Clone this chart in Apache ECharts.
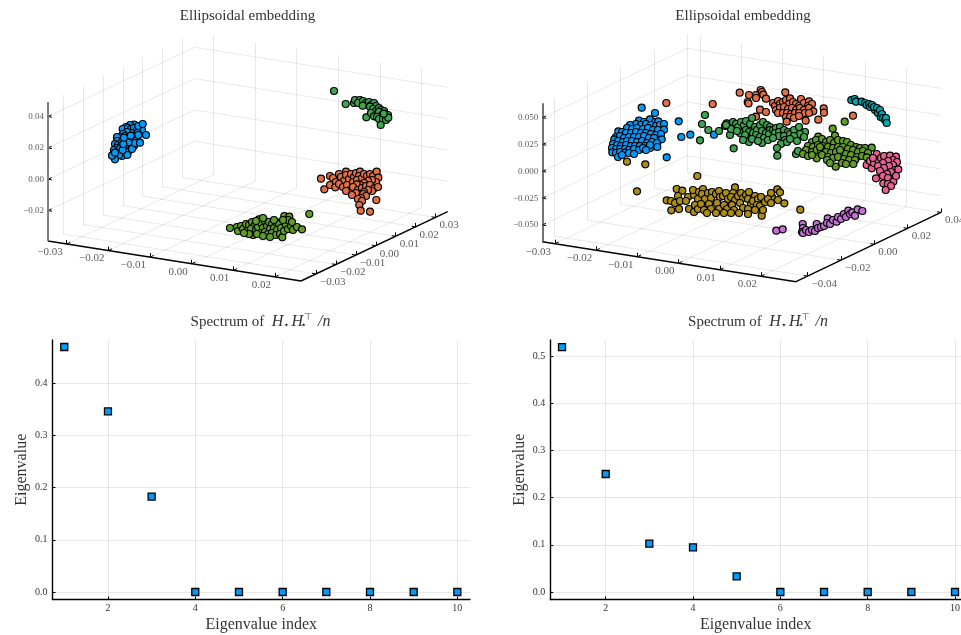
<!DOCTYPE html>
<html><head><meta charset="utf-8">
<style>html,body{margin:0;padding:0;background:#fff}#c{width:961px;height:635px}</style>
<script src="https://cdn.jsdelivr.net/npm/echarts@6/dist/echarts.min.js"></script>
</head><body><div id="c"></div>
<script>
// ---- Spectrum panels: values
const eigenIndex = [1,2,3,4,5,6,7,8,9,10];
const spectrumLeft = [0.4696,0.346,0.1827,0,0,0,0,0,0,0];
const spectrumRight = [0.519,0.25,0.1024,0.0946,0.033,0,0,0,0,0];
const xTickValues = [2,4,6,8,10];
const yTicksLeft = [0,0.1,0.2,0.3,0.4];
const yTicksRight = [0,0.1,0.2,0.3,0.4,0.5];

// ---- 3D tick labels
const lx = [-0.03,-0.02,-0.01,0,0.01,0.02];
const ly = [-0.03,-0.02,-0.01,0,0.01,0.02,0.03];
const lz = [-0.02,0,0.02,0.04];
const rx = [-0.03,-0.02,-0.01,0,0.01,0.02];
const ry = [-0.04,-0.02,0,0.02,0.04];
const rz = [-0.05,-0.025,0,0.025,0.05];

// ---- 3D clouds: positions on the flattened view plane
const leftBlue = [[127,130],[132,131],[135,132],[122,136],[119,139],[124,142],[127,140],[131,139],[135,139],[120,144],[123,146],[127,147],[131,143],[117,146],[116,150],[120,152],[124,153],[134,124.5],[130,125],[126,127],[122.7,129],[128,128],[131,129],[134,128],[137,130],[140,131],[142,130],[137.5,133],[131,133],[127,132],[123,134],[120,137],[117,137],[125,136],[129,137],[134,136],[125,139],[129,140],[133,141],[137,139],[120,141],[117,141],[115,144],[118,145],[122,142],[126,144],[130,145],[134,146],[129,149],[125,147],[121,146],[117,148],[114,150],[118,151],[120,149],[125,151],[128,152],[132,149],[135,143],[118.7,153],[122,156],[119,155],[115,159.3],[112,155.7],[127.3,155],[122.7,150],[115,152.7],[128.3,142.3],[123.3,144],[124,137.7],[130.7,135.7],[138.3,135],[140,142.7],[146,135],[138.3,126],[142.7,124]];
const leftOrange = [[321,178.7],[324.3,189.3],[330,176],[330,185],[333,178],[336,182],[339,174],[335.3,187.3],[341,177],[344,181],[346,171.7],[346,175],[349,179],[339,184],[343,187],[347,185],[350,190],[346,191],[351,174],[354,177],[353,182],[356,173],[360,171.7],[359,176],[357,180],[362,178],[364,174],[367,176],[370,174],[373,176],[376.7,171.7],[378.3,177.7],[376,182],[372,180],[368,181],[364,183],[360,185],[356.7,184.3],[353,187],[358,190],[362,188],[366,186],[370,185],[374.3,188.3],[378,187],[372,191],[368,190],[364,192],[360,194],[356,193],[352,195],[363.3,194],[366,196],[361,198],[358,199],[362,201],[359.3,205],[376.3,200],[370,211.7],[360.7,210.7]];
const leftGreen = [[334,91],[345.7,104],[354,103],[355,100],[360,100],[358,103],[363,101],[366,103],[362.7,105.7],[369,102],[371,105],[374,103],[376,106],[370,106.7],[373,109],[376,111],[379,108],[381,110],[384,111],[379,112],[382,115],[385,114],[388,115],[366.3,117.3],[371,113],[374,116.3],[377,117],[379,119],[383,119],[386,120],[388.3,117.7],[383.7,113.7],[380.7,125]];
const leftOlive = [[230,228],[237,227],[238,231],[241,226],[243,229],[246,224],[249,225],[247,231],[252,222],[255,225],[253.3,235],[251,229],[256,230],[259,219.3],[258,227],[261,223],[265,221],[263,228],[267,226],[261,233],[265,232],[269,222],[272,224],[270,229],[274,228],[268,234],[272,233],[276,222],[279,224],[277,230],[281,228],[276,235],[280,234],[282.3,237.3],[284,231],[286,225],[284.3,216],[289.3,216.7],[288,220],[283,220],[288,229],[291,226],[293,230],[297,227],[302,229.3],[309.3,214],[257,234],[249,234],[292,222],[274,220],[244,233],[263,236],[270,237],[256,221],[263,218]];

const rightBlue = [[634,127],[640,130],[646,130],[651,128],[628,134],[634,134],[645,139],[650,141],[655,133],[622,139],[630,143],[636,139],[640,143],[618,147],[624,147],[641,149],[650,148],[641.7,107.7],[655,113],[678.7,121.3],[681.3,137],[690.3,134.7],[714,134.7],[666.7,157.3],[639,120.7],[644,122],[650,119.3],[655,122],[658.3,121.3],[636,124],[641,125],[646,124],[651,125],[656,126],[660,125],[664,124],[630,125],[627,128],[632,129],[637,128],[643,129],[648,128],[653,130],[658,130],[664,129.7],[618.3,131.3],[622,132],[626,133],[631,133],[636,132],[641,133],[646,133],[651,134],[656,135],[661,134],[616,137],[620,136],[624,138],[629,137],[634,137],[639,137],[644,136],[649,138],[654,138],[661.7,139.3],[614.3,139.3],[618,141],[623,142],[627,141],[632,141],[637,142],[642,141],[647,143],[652,142],[657,143],[613,144],[617,145],[621,146],[626,145],[631,146],[635,146],[640,146],[645,146],[650,145],[657.3,147],[612,148],[616,149],[620,149],[625,149],[629,150],[634,149],[639,150],[643,148],[646,150],[612.3,152.3],[616,153],[620,152],[625,152.7],[629,153],[634,154],[618,157],[622,155]];
const rightOrange = [[666.3,103],[712.7,104],[739.7,92.7],[749,95],[747.7,102],[748.5,103.5],[756,95],[760.7,90],[762,92],[763.3,94.7],[756,98],[766,98.7],[760,109.7],[766,112],[756,116.7],[773,103],[775,106],[778,101],[780,104],[785.3,92.3],[783,102],[786,100],[790,98.3],[789,104],[793,102],[796,104],[801,99],[799,106],[804,103],[809,101.3],[808,106],[812,104],[776,110],[780,108],[784,107],[788,109],[792,108],[796,110],[800,108],[804,110],[809,108],[813.3,111.3],[778,113],[783,113],[787,113],[791,114],[795,113],[799,113],[805,113],[809,113],[786,117],[790,117],[794,118],[799,116],[786.7,121.7],[805.7,120.7],[818.3,119.7],[823.7,108.3],[824,112.7],[853,115.7]];
const rightGreen = [[705,115],[702,124],[708.3,130],[719,131],[700,140.3],[726.7,123.3],[725,126],[730,135],[733,122],[736,124],[731,129],[726,125],[738,127],[741,122],[744,125],[740,133],[746,130],[746,121],[750,124],[752,118],[755,127],[749,132],[745,135],[753,133],[757,130],[760,125],[763,122],[767,125],[770,127],[762,131],[766,133],[770,130],[756,135],[760,137],[764,138],[769,134],[773,130],[776,128],[780,127],[775,133],[779,132],[784,130],[788,132],[779,136],[784,136],[790,134],[794,130],[799,127],[805,132],[800,134],[794,136],[804,137],[785,140],[762,143],[749,142],[743,140],[733.7,148.3],[777.3,155.7],[781,144],[787,142],[796,154],[798,151],[777,148],[737,131],[752,139],[758,141],[768,140],[773,138],[790,139],[797,141]];
const rightPurple = [[776.3,230.7],[782.7,229.3],[802.7,224],[803,228],[802,232],[803,233],[806,230],[809,232],[812,230],[815,231],[816.7,224],[818,228],[821,227],[824,226],[827.7,218.3],[827,223],[830,224],[833,220],[836.7,221.7],[838,217],[841,219],[844,214],[846,217],[848.3,210.7],[850,214],[852.3,212.3],[855,215.7],[857.7,209.3],[862.3,211]];
const rightGold = [[627,161.7],[645.3,164.3],[697.3,176],[637,191.3],[666.7,200.3],[671,201],[671.3,210.3],[676.7,189],[682.3,190.7],[678,196],[675,203],[680,201],[679,209],[688,197],[686,201],[689,209],[694,195],[693,190],[698,199],[695,205],[694,212],[698,209],[699,192],[703,189],[702,194],[705,199],[701,204],[704,210],[708,193],[712,192],[711,198],[709,204],[711,209],[707,213],[716,194],[719,191],[720,197],[717,203],[719,209],[716,213],[723,196],[726,193],[728,199],[724,205],[727,209],[724,213],[735,187.3],[733,193],[731,197],[735,200],[732,205],[734,210],[731,213],[738,196],[741,193],[743,198],[740,203],[743,208],[739,213],[746,195],[749,192],[748,199],[751,204],[748,209],[755,196],[753,201],[758,199],[757,205],[761.7,215.7],[761,197],[760,206],[763,210],[765,202],[772,197],[771,193],[777.3,189.3],[780,192.3],[778,200],[784.3,203.3],[800.3,209.7],[768,199],[755,210],[748,214],[771,203]];
const rightTeal = [[851.3,100],[854.7,99],[856,101.7],[861.7,101.7],[865,103],[866.7,105],[869,104],[870,107],[872,105],[875,110],[874,107],[877,108],[878,113],[880,110],[880.7,117],[882,114],[883,118],[885,120],[886,118],[886.7,123]];
const rightOlive = [[832.7,128.7],[844.7,121.7],[818.3,136.7],[835,135.7],[812,142],[816,140],[822,139],[826,142],[830,140],[834,143],[838,140],[843,141],[847,142],[851,145],[856,147],[860,148],[865,148],[871.7,147.7],[808,146],[813,147],[818,145],[823,146],[828,147],[833,148],[838,147],[843,147],[848,149],[853,150],[858,152],[863,151],[868,153],[806,150],[812,152],[816.7,150],[821,151],[826,152],[831,153],[836,152],[841,153],[846,154],[851,155],[857,157],[862,156],[866.7,157.3],[803,154],[808,156],[816.7,158.3],[822,155],[828,157],[833,158],[838,157],[844,159],[849,160],[855,160],[827,160],[835.7,166.7],[853.3,164],[842,163],[830,163],[846,164],[812,155],[820,147],[840,150]];
const rightPink = [[876.7,154],[866.7,165],[871.7,168.3],[876,178.3],[870,161],[874,163],[878,160],[881,158],[884,156],[890,155.7],[896,156.7],[893,160],[888,161],[883,163],[878,166],[873,158],[897,162],[893,165],[889,166],[884,168],[880,171],[895,170],[898.3,169.3],[891,172],[887,174],[883,176],[888,178],[893.3,181.7],[896,176],[883.3,183.3],[888,184],[891,186],[885.7,190]];

const C_BLUE='#009AFA',C_ORANGE='#E36F47',C_GREEN='#3EA44E',C_PURPLE='#C371D2',C_GOLD='#AC8D18',C_TEAL='#00A9AD',C_PINK='#ED5E93',C_OLIVE='#5F9E28';
const FONT='"Liberation Serif","DejaVu Serif",serif', TXT='#333333', GRIDC='rgba(0,0,0,0.09)';

// Panel geometry of the flattened 3D box
const leftBox={xi:0,o:[48,241],ex:[253,40],ey:[146.7,-69.3],h:139,xr:[-0.0345,0.02624],yr:[-0.03753,0.0361],zr:[-0.0394,0.0493],xt:lx,yt:ly,zt:lz,dec:2,zc:'#808080',zw:2};
const rightBox={xi:1,o:[542.3,241.7],ex:[253.7,40],ey:[145,-69.3],h:138.4,xr:[-0.0331,0.0285],yr:[-0.047,0.04],zr:[-0.0655,0.0634],xt:rx,yt:ry,zt:rz,dec:3,zc:'#444444',zw:1.5};

function proj(b,x,y,z){
  const tx=(x-b.xr[0])/(b.xr[1]-b.xr[0]),ty=(y-b.yr[0])/(b.yr[1]-b.yr[0]),tz=(z-b.zr[0])/(b.zr[1]-b.zr[0]);
  return [b.o[0]+tx*b.ex[0]+ty*b.ey[0], b.o[1]+tx*b.ex[1]+ty*b.ey[1]-tz*b.h];
}
function seg(a,b){return {coords:[a,b]};}
function fmt(v,d){const s=Math.abs(v).toFixed(d);return (v<0?'\u2212':'')+s;}
function boxSeries(b){
  const g=[],t=[],ax=[],zAxis=[],labels=[];
  const X0=b.xr[0],X1=b.xr[1],Y0=b.yr[0],Y1=b.yr[1],Z0=b.zr[0],Z1=b.zr[1];
  const nx=Math.hypot(b.ex[0],b.ex[1]),ny=Math.hypot(b.ey[0],b.ey[1]),L=4;
  const ux=[b.ex[0]/nx*L,b.ex[1]/nx*L],uy=[b.ey[0]/ny*L,b.ey[1]/ny*L];
  b.xt.forEach(v=>{const a=proj(b,v,Y0,Z0),c=proj(b,v,Y1,Z0),d=proj(b,v,Y1,Z1);
    g.push(seg(a,c),seg(c,d));
    t.push(seg(a,[a[0]+uy[0],a[1]+uy[1]]),seg(a,[a[0],a[1]-L]));
    labels.push({value:[a[0]-4,a[1]+8],label:{formatter:fmt(v,2),align:'right',fontSize:11}});});
  b.yt.forEach(v=>{const a=proj(b,X1,v,Z0),c=proj(b,X0,v,Z0),d=proj(b,X0,v,Z1);
    g.push(seg(a,c),seg(c,d));
    t.push(seg(a,[a[0]-ux[0],a[1]-ux[1]]),seg(a,[a[0],a[1]-L]));
    labels.push({value:[a[0]+4,a[1]+8],label:{formatter:fmt(v,2),align:'left',fontSize:11}});});
  b.zt.forEach(v=>{const a=proj(b,X0,Y0,v),c=proj(b,X0,Y1,v),d=proj(b,X1,Y1,v);
    g.push(seg(a,c),seg(c,d));
    t.push(seg(a,[a[0]+uy[0],a[1]+uy[1]]),seg(a,[a[0]+ux[0],a[1]+ux[1]]));
    labels.push({value:[a[0]-4,a[1]],label:{formatter:fmt(v,b.dec),align:'right',fontSize:9}});});
  ax.push(seg(proj(b,X0,Y0,Z0),proj(b,X1,Y0,Z0)),seg(proj(b,X1,Y0,Z0),proj(b,X1,Y1,Z0)));
  zAxis.push(seg(proj(b,X0,Y0,Z0),proj(b,X0,Y0,Z1)));
  const mk=(data,color,width)=>({type:'lines',coordinateSystem:'cartesian2d',xAxisIndex:b.xi,yAxisIndex:b.xi,polyline:false,silent:true,clip:false,lineStyle:{color,width,opacity:1},data,animation:false});
  return [mk(g,GRIDC,1),mk(t,'#000',1),mk(ax,'#000',1.4),mk(zAxis,b.zc,b.zw),
    {type:'scatter',xAxisIndex:b.xi,yAxisIndex:b.xi,symbolSize:1,itemStyle:{color:'rgba(0,0,0,0)'},silent:true,clip:false,z:1,
     label:{show:true,position:'inside',verticalAlign:'middle',color:TXT,fontFamily:FONT},data:labels}];
}
function cloud(xi,data,color){
  return {type:'scatter',xAxisIndex:xi,yAxisIndex:xi,data,symbol:'circle',symbolSize:7,clip:false,silent:true,z:3,
    itemStyle:{color,borderColor:'#000',borderWidth:1.2,opacity:1}};
}
function hiddenX(min,max,gridIndex){return {type:'value',gridIndex,min,max,show:false};}
function hiddenY(min,max,gridIndex){return {type:'value',gridIndex,min,max,inverse:true,show:false};}
function xAx(gridIndex,min,max){return {type:'value',gridIndex,min,max,name:'Eigenvalue index',nameLocation:'middle',nameGap:17,
  nameTextStyle:{fontFamily:FONT,fontSize:16,color:TXT},
  axisLine:{show:true,onZero:false,lineStyle:{color:'#000',width:1.4}},
  axisTick:{show:true,inside:true,length:3,customValues:xTickValues,lineStyle:{color:'#000',width:1}},
  axisLabel:{customValues:xTickValues,fontFamily:FONT,fontSize:10,color:TXT,margin:4,formatter:v=>String(v)},
  splitLine:{show:true,customValues:xTickValues,lineStyle:{color:GRIDC,width:1}}};}
function yAx(gridIndex,min,max,ticks,gap){return {type:'value',gridIndex,min,max,name:'Eigenvalue',nameLocation:'middle',nameGap:gap,nameRotate:90,
  nameTextStyle:{fontFamily:FONT,fontSize:16,color:TXT},
  axisLine:{show:true,onZero:false,lineStyle:{color:'#000',width:1.4}},
  axisTick:{show:true,inside:true,length:3,customValues:ticks,lineStyle:{color:'#000',width:1}},
  axisLabel:{customValues:ticks,fontFamily:FONT,fontSize:10,color:TXT,margin:5,formatter:v=>v.toFixed(1)},
  splitLine:{show:true,customValues:ticks,lineStyle:{color:GRIDC,width:1}}};}
function spec(xi,vals){return {type:'scatter',xAxisIndex:xi,yAxisIndex:xi,symbol:'rect',symbolSize:7,clip:false,silent:true,
  itemStyle:{color:C_BLUE,borderColor:'#000',borderWidth:1.3,opacity:1},data:eigenIndex.map((x,i)=>[x,vals[i]])};}
const specTitle='Spectrum of  {i|H}{s|\u22C6}{i|H}{s1|\u22C6}{u|\u22A4}{n|/n}';
const titleRich={i:{fontFamily:FONT,fontStyle:'italic',fontSize:16,color:TXT},
  n:{fontFamily:FONT,fontStyle:'italic',fontSize:16,color:TXT},
  s:{fontFamily:'"DejaVu Sans"',fontSize:10,color:TXT,padding:[7,2,0,0]},
  s1:{fontFamily:'"DejaVu Sans"',fontSize:10,color:TXT,width:1,padding:[7,0,0,0]},
  u:{fontFamily:'"DejaVu Sans"',fontSize:9,color:TXT,padding:[0,6,9,0]}};
function title(text,cx,y,rich){return {text,left:cx-5,top:y-4,textAlign:'center',textVerticalAlign:'middle',textStyle:{fontFamily:FONT,fontWeight:'normal',fontSize:15,color:TXT,rich:rich||{}}};}

const chart=echarts.init(document.getElementById('c'),null,{renderer:'canvas',width:961,height:635});
chart.setOption({
  animation:false,backgroundColor:'#fff',
  title:[title('Ellipsoidal embedding',247.5,15),title('Ellipsoidal embedding',743,15),
         title(specTitle,260.5,321,titleRich),title(specTitle,758,321,titleRich)],
  grid:[{left:0,top:0,width:480,height:310,outerBoundsMode:'none'},{left:480,top:0,width:481,height:310,outerBoundsMode:'none'},
        {left:52.5,top:340,width:417.5,height:259.5,outerBoundsMode:'none'},{left:550.3,top:340,width:410.7,height:259.5,outerBoundsMode:'none'}],
  xAxis:[hiddenX(0,480,0),hiddenX(480,961,1),xAx(2,0.73,10.29),xAx(3,0.732,10.137)],
  yAxis:[hiddenY(0,310,0),hiddenY(0,310,1),yAx(2,-0.0144,0.483,yTicksLeft,23),yAx(3,-0.0159,0.534,yTicksRight,23)],
  series:[...boxSeries(leftBox),...boxSeries(rightBox),
    cloud(0,leftBlue,C_BLUE),cloud(0,leftOrange,C_ORANGE),cloud(0,leftGreen,C_GREEN),cloud(0,leftOlive,C_OLIVE),
    cloud(1,rightBlue,C_BLUE),cloud(1,rightOrange,C_ORANGE),cloud(1,rightGreen,C_GREEN),cloud(1,rightPurple,C_PURPLE),
    cloud(1,rightGold,C_GOLD),cloud(1,rightTeal,C_TEAL),cloud(1,rightOlive,C_OLIVE),cloud(1,rightPink,C_PINK),
    spec(2,spectrumLeft),spec(3,spectrumRight)]
});
</script></body></html>
